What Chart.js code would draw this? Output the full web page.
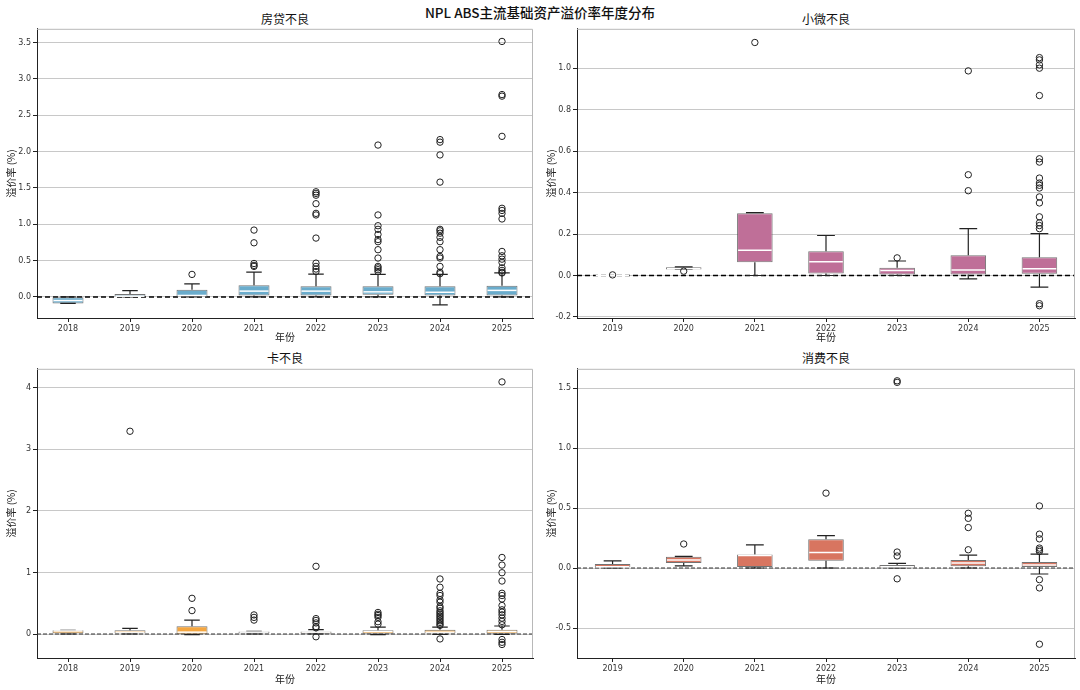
<!DOCTYPE html>
<html>
<head>
<meta charset="utf-8">
<script src="https://cdn.jsdelivr.net/npm/chart.js@4.4.0/dist/chart.umd.min.js"></script>
<style>
  body { margin: 0; background: #fff; font-family: "Noto Sans CJK SC", sans-serif; }
  #page { position: relative; width: 1080px; height: 690px; overflow: hidden; }
  .box { position: absolute; }
  .ttl { position: absolute; text-align: center; color: #111; white-space: nowrap; }
</style>
</head>
<body>
<div id="page">
  <div class="ttl" style="left:0;width:1080px;top:2px;font-size:13.5px;font-weight:500;">NPL ABS主流基础资产溢价率年度分布</div>
  <div class="ttl" style="left:37px;width:496px;top:10px;font-size:12px;">房贷不良</div>
  <div class="ttl" style="left:577px;width:498px;top:10px;font-size:12px;">小微不良</div>
  <div class="ttl" style="left:37px;width:496px;top:349px;font-size:12px;">卡不良</div>
  <div class="ttl" style="left:577px;width:498px;top:349px;font-size:12px;">消费不良</div>
  <div class="box" style="left:0;top:22px;"><canvas id="c1" width="540" height="323"></canvas></div>
  <div class="box" style="left:540px;top:22px;"><canvas id="c2" width="540" height="323"></canvas></div>
  <div class="box" style="left:0;top:362px;"><canvas id="c3" width="540" height="328"></canvas></div>
  <div class="box" style="left:540px;top:362px;"><canvas id="c4" width="540" height="328"></canvas></div>
</div>
<script>
// ===============================
// DATA
// ===============================
const yearsA = ["2018", "2019", "2020", "2021", "2022", "2023", "2024", "2025"];
const yearsB = ["2019", "2020", "2021", "2022", "2023", "2024", "2025"];

// 房贷不良
const houseQ1  = [-0.09, 0.0, 0.005, 0.02, 0.02, 0.03, 0.02, 0.02];
const houseMed = [-0.05, 0.01, 0.02, 0.08, 0.08, 0.07, 0.064, 0.09];
const houseQ3  = [-0.005, 0.04, 0.1, 0.16, 0.146, 0.146, 0.146, 0.155];
const houseLo  = [-0.09, 0.0, 0.0, 0.0, 0.0, 0.0, -0.11, 0.0];
const houseHi  = [0.0, 0.087, 0.18, 0.34, 0.315, 0.31, 0.31, 0.33];
const houseOut = [
  [],
  [],
  [0.31],
  [0.92, 0.745, 0.46, 0.434, 0.42],
  [1.447, 1.425, 1.40, 1.283, 1.15, 1.128, 0.81, 0.465, 0.42, 0.384, 0.35],
  [2.09, 1.128, 0.98, 0.93, 0.86, 0.79, 0.76, 0.65, 0.535, 0.42, 0.40, 0.375, 0.35],
  [2.165, 2.13, 1.954, 1.58, 0.93, 0.91, 0.877, 0.82, 0.76, 0.65, 0.557, 0.535, 0.42, 0.34, 0.32],
  [3.516, 2.785, 2.763, 2.21, 1.22, 1.19, 1.15, 1.073, 0.626, 0.566, 0.52, 0.475, 0.40, 0.365, 0.338, 0.33]
];

// 小微不良
const smeQ1  = [0, 0.029, 0.064, 0.01, 0.005, 0.005, 0.008];
const smeMed = [0, 0.032, 0.122, 0.066, 0.024, 0.027, 0.032];
const smeQ3  = [0, 0.04, 0.30, 0.117, 0.037, 0.098, 0.088];
const smeLo  = [0, 0.029, 0.0, 0.0, 0.0, -0.016, -0.056];
const smeHi  = [0, 0.042, 0.303, 0.193, 0.07, 0.226, 0.202];
const smeOut = [
  [0.003],
  [0.021],
  [1.124],
  [],
  [0.085],
  [0.987, 0.486, 0.409],
  [1.051, 1.04, 1.016, 1.0, 0.868, 0.563, 0.547, 0.47, 0.446, 0.435, 0.422, 0.379, 0.35, 0.283, 0.254, 0.241, 0.226, -0.136, -0.146]
];

// 卡不良
const cardQ1  = [0.0, 0.01, -0.005, 0.01, 0.005, 0.005, 0.01, 0.005];
const cardMed = [0.05, 0.03, 0.03, 0.03, 0.03, 0.04, 0.03, 0.04];
const cardQ3  = [0.06, 0.06, 0.125, 0.04, 0.04, 0.06, 0.07, 0.07];
const cardLo  = [0.0, 0.0, -0.01, 0.0, 0.0, -0.01, -0.005, -0.005];
const cardHi  = [0.06, 0.09, 0.226, 0.045, 0.07, 0.113, 0.113, 0.13];
const cardOut = [
  [],
  [3.295],
  [0.58, 0.38],
  [0.31, 0.27, 0.226],
  [1.10, 0.25, 0.22, 0.18, 0.12, 0.10, -0.045],
  [0.35, 0.32, 0.30, 0.27, 0.2, 0.16],
  [0.894, 0.76, 0.66, 0.625, 0.555, 0.517, 0.447, 0.42, 0.377, 0.35, 0.323, 0.296, 0.27, 0.242, 0.215, 0.188, 0.16, 0.14, -0.08],
  [4.097, 1.244, 1.12, 0.996, 0.861, 0.662, 0.625, 0.57, 0.463, 0.393, 0.355, 0.312, 0.258, 0.205, 0.15, -0.09, -0.135, -0.17]
];

// 消费不良
const consQ1  = [0.0, 0.041, 0.008, 0.06, 0.003, 0.014, 0.008];
const consMed = [0.01, 0.066, 0.105, 0.13, 0.01, 0.041, 0.025];
const consQ3  = [0.033, 0.094, 0.113, 0.24, 0.025, 0.066, 0.05];
const consLo  = [0.0, 0.017, 0.0, 0.0, 0.0, 0.0, -0.05];
const consHi  = [0.06, 0.097, 0.193, 0.27, 0.039, 0.108, 0.116];
const consOut = [
  [],
  [0.2],
  [],
  [0.624],
  [1.56, 1.547, 0.133, 0.10, -0.09],
  [0.456, 0.414, 0.337, 0.152],
  [0.517, 0.282, 0.243, 0.166, 0.152, 0.138, -0.097, -0.166, -0.635]
];

// ===============================
// BOXPLOT PLUGIN (whiskers, caps, medians, zero line, frame)
// ===============================
const boxPlugin = {
  id: "boxParts",
  beforeDatasetsDraw(chart, args, opts) {
    const { ctx, chartArea } = chart;
    const y0 = chart.scales.y.getPixelForValue(0);
    ctx.save();
    ctx.strokeStyle = opts.zeroColor;
    ctx.lineWidth = opts.zeroWidth;
    ctx.setLineDash(opts.zeroDash);
    ctx.beginPath();
    ctx.moveTo(chartArea.left, y0);
    ctx.lineTo(chartArea.right, y0);
    ctx.stroke();
    ctx.restore();
  },
  afterDatasetDraw(chart, args, opts) {
    if (args.index !== 0) return;
    const { ctx } = chart;
    const ys = chart.scales.y;
    const bars = chart.getDatasetMeta(0).data;
    ctx.save();
    bars.forEach((bar, i) => {
      const half = bar.width / 2;
      const cap = bar.width / 4;
      const pq1 = ys.getPixelForValue(opts.q1[i]);
      const pq3 = ys.getPixelForValue(opts.q3[i]);
      const plo = ys.getPixelForValue(opts.lo[i]);
      const phi = ys.getPixelForValue(opts.hi[i]);
      const pmed = ys.getPixelForValue(opts.med[i]);

      ctx.strokeStyle = "#222";
      ctx.lineWidth = 1.2;
      ctx.beginPath();
      ctx.moveTo(bar.x, pq3); ctx.lineTo(bar.x, phi);
      ctx.moveTo(bar.x, pq1); ctx.lineTo(bar.x, plo);
      ctx.moveTo(bar.x - cap, phi); ctx.lineTo(bar.x + cap, phi);
      ctx.moveTo(bar.x - cap, plo); ctx.lineTo(bar.x + cap, plo);
      ctx.stroke();

      ctx.strokeStyle = "#fff";
      ctx.lineWidth = 1.5;
      ctx.beginPath();
      ctx.moveTo(bar.x - half + 1, pmed); ctx.lineTo(bar.x + half - 1, pmed);
      ctx.stroke();
    });
    ctx.restore();
  },
  afterDraw(chart) {
    const { ctx, chartArea: a } = chart;
    ctx.save();
    ctx.lineWidth = 1;
    ctx.strokeStyle = "#b8b8b8";
    ctx.beginPath();
    ctx.moveTo(a.left, a.top + 0.5); ctx.lineTo(a.right - 0.5, a.top + 0.5);
    ctx.lineTo(a.right - 0.5, a.bottom);
    ctx.stroke();
    ctx.restore();
  }
};

// ===============================
// CHART FACTORY
// ===============================
function makeChart(id, labels, q1, med, q3, lo, hi, outs, color, yMin, yMax, step, decimals, thin, padRight, xHeight, padBottom) {
  const points = [];
  outs.forEach((list, i) => list.forEach(v => points.push({ x: labels[i], y: v })));

  return new Chart(document.getElementById(id), {
    data: {
      labels,
      datasets: [
        {
          type: "bar",
          data: q1.map((v, i) => [v, q3[i]]),
          backgroundColor: color,
          borderColor: "rgba(80,80,80,0.8)",
          borderWidth: 1,
          borderSkipped: false,
          barPercentage: 0.5,
          categoryPercentage: 1.0,
          order: 1
        },
        {
          type: "line",
          data: points,
          showLine: false,
          pointRadius: 3.2,
          pointBorderWidth: 1,
          pointBorderColor: "#222",
          pointBackgroundColor: "rgba(0,0,0,0)",
          order: 0
        }
      ]
    },
    options: {
      responsive: false,
      animation: false,
      layout: { padding: { top: 6, right: padRight, left: 0, bottom: padBottom } },
      plugins: {
        legend: { display: false },
        tooltip: { enabled: false },
        boxParts: {
          q1, med, q3, lo, hi,
          zeroColor: thin ? "#333" : "#000",
          zeroWidth: thin ? 1 : 1.6,
          zeroDash: thin ? [4, 2] : [5, 3]
        }
      },
      scales: {
        x: {
          type: "category",
          offset: true,
          grid: { display: true, offset: false, drawOnChartArea: false, drawTicks: true, tickLength: 4, tickColor: "#222" },
          border: { display: true, color: "#222", width: 1 },
          ticks: { color: "#333", font: { family: "DejaVu Sans", size: 8 }, padding: 2, maxRotation: 0 },
          title: { display: true, text: "年份", color: "#222", font: { family: "Noto Sans CJK SC", size: 10 }, padding: 0 },
          afterFit(scale) { scale.height = xHeight; }
        },
        y: {
          min: yMin,
          max: yMax,
          grid: { color: "#c8c8c8", lineWidth: 1, tickLength: 4, tickColor: "#222" },
          border: { display: true, color: "#222", width: 1 },
          ticks: {
            stepSize: step,
            includeBounds: false,
            color: "#333",
            font: { family: "DejaVu Sans", size: 8 },
            padding: 2,
            callback: v => v.toFixed(decimals)
          },
          title: { display: true, text: "溢价率 (%)", color: "#222", font: { family: "Noto Sans CJK SC", size: 10 }, padding: { top: 5, bottom: 0 } },
          afterFit(scale) { scale.width = 37; }
        }
      }
    },
    plugins: [boxPlugin]
  });
}

document.addEventListener("DOMContentLoaded", () => {
  makeChart("c1", yearsA, houseQ1, houseMed, houseQ3, houseLo, houseHi, houseOut, "#6aaccc", -0.29, 3.69, 0.5, 1, false, 7, 25, 2);
  makeChart("c2", yearsB, smeQ1, smeMed, smeQ3, smeLo, smeHi, smeOut, "#bf6f98", -0.205, 1.19, 0.2, 1, false, 5, 25, 2);
  makeChart("c3", yearsA, cardQ1, cardMed, cardQ3, cardLo, cardHi, cardOut, "#f4a640", -0.39, 4.31, 1, 0, true, 7, 27, 5);
  makeChart("c4", yearsB, consQ1, consMed, consQ3, consLo, consHi, consOut, "#d87560", -0.75, 1.66, 0.5, 1, true, 5, 27, 5);
});
</script>
</body>
</html>
